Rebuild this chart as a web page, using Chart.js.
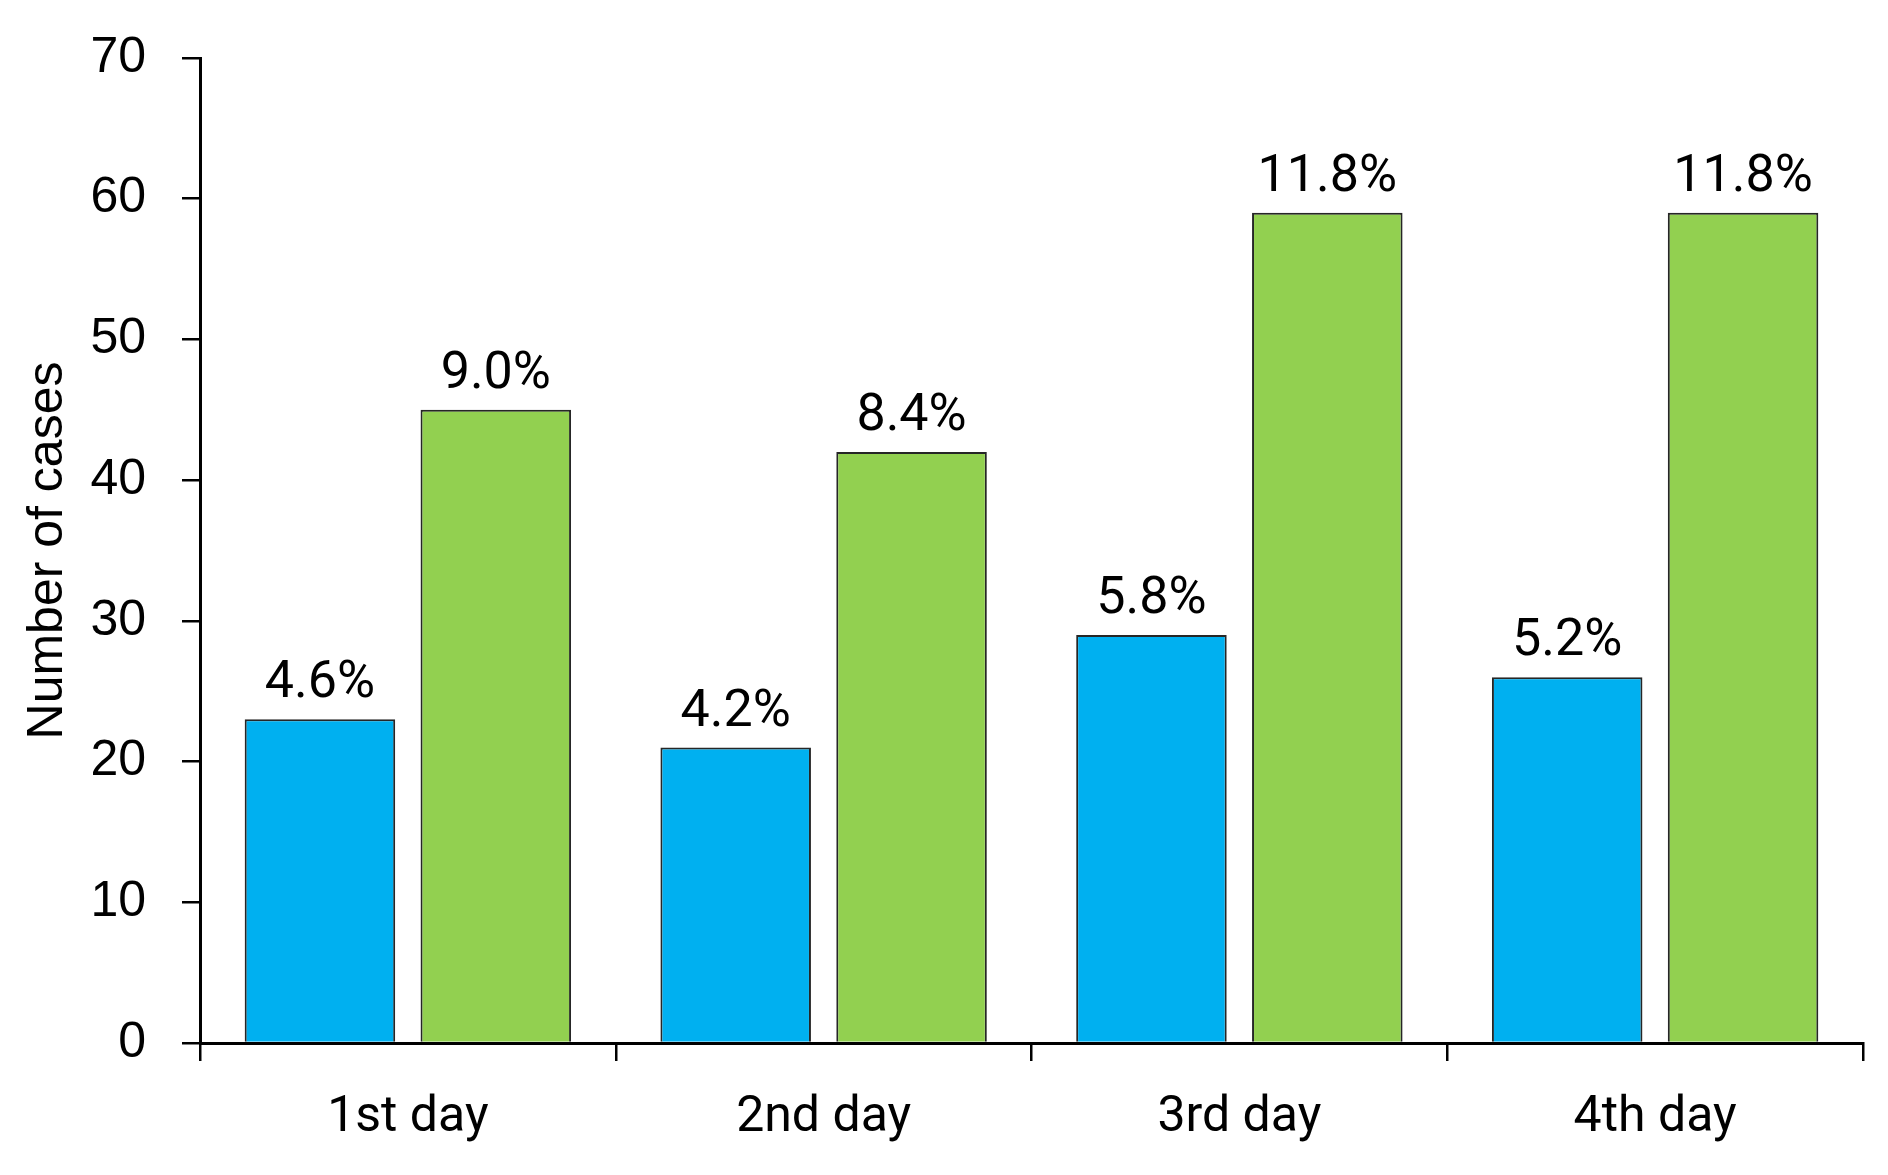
<!DOCTYPE html>
<html>
<head>
<meta charset="utf-8">
<script src="https://cdn.jsdelivr.net/npm/chart.js@4.4.1/dist/chart.umd.min.js"></script>
<style>
  html, body { margin: 0; padding: 0; background: #fff; }
  #wrap { width: 1888px; height: 1175px; }
</style>
</head>
<body>
<div id="wrap"><canvas id="graphCanvas" width="1888" height="1175"></canvas></div>
<script>
var days = ['1st day', '2nd day', '3rd day', '4th day'];
var blueCases = [23, 21, 29, 26];
var greenCases = [45, 42, 59, 59];
var bluePct = ['4.6%', '4.2%', '5.8%', '5.2%'];
var greenPct = ['9.0%', '8.4%', '11.8%', '11.8%'];
var yTicks = [0, 10, 20, 30, 40, 50, 60, 70];

var labelFont = 'Roboto, "Liberation Sans", Arial, sans-serif';
var sansFont = '"Liberation Sans", Arial, sans-serif';

// percentage labels above every bar
var barLabels = {
    id: 'barLabels',
    afterDatasetsDraw: function (chart) {
        var ctx = chart.ctx;
        ctx.save();
        ctx.font = '52px ' + labelFont;
        ctx.fillStyle = '#000';
        ctx.textAlign = 'center';
        ctx.textBaseline = 'alphabetic';
        chart.data.datasets.forEach(function (ds, i) {
            var meta = chart.getDatasetMeta(i);
            meta.data.forEach(function (bar, j) {
                ctx.fillText(ds.pct[j], bar.x, bar.y - 22);
            });
        });
        ctx.restore();
    }
};

var chartdata = {
    labels: days,
    datasets: [
        {
            label: 'blue',
            data: blueCases,
            pct: bluePct,
            backgroundColor: '#00B0F0',
            borderColor: '#262626',
            borderWidth: 2,
            borderSkipped: 'bottom',
            categoryPercentage: 0.846,
            barPercentage: 0.856
        },
        {
            label: 'green',
            data: greenCases,
            pct: greenPct,
            backgroundColor: '#92D050',
            borderColor: '#262626',
            borderWidth: 2,
            borderSkipped: 'bottom',
            categoryPercentage: 0.846,
            barPercentage: 0.856
        }
    ]
};

new Chart(document.getElementById('graphCanvas'), {
    type: 'bar',
    data: chartdata,
    plugins: [barLabels],
    options: {
        responsive: false,
        animation: false,
        devicePixelRatio: 1,
        layout: { padding: { top: 58, right: 25, bottom: 0, left: 0 } },
        plugins: {
            legend: { display: false },
            tooltip: { enabled: false }
        },
        scales: {
            x: {
                offset: true,
                border: { display: true, color: '#000', width: 3 },
                grid: { display: true, drawOnChartArea: false, drawTicks: true, tickLength: 18, color: '#000', lineWidth: 2.5, offset: true },
                ticks: { color: '#000', font: { family: labelFont, size: 50 }, padding: 27, maxRotation: 0 },
                afterFit: function (scale) { scale.height = 132; }
            },
            y: {
                min: 0,
                max: 70,
                afterBuildTicks: function (scale) {
                    scale.ticks = yTicks.map(function (v) { return { value: v }; });
                },
                border: { display: true, color: '#000', width: 3 },
                grid: { display: true, drawOnChartArea: false, drawTicks: true, tickLength: 18, color: '#000', lineWidth: 2.5 },
                ticks: { color: '#000', font: { family: sansFont, size: 50 }, padding: 36 },
                title: {
                    display: true,
                    text: 'Number of cases',
                    color: '#000',
                    font: { family: sansFont, size: 50, lineHeight: 1 },
                    padding: { top: 23, bottom: 0 }
                },
                afterFit: function (scale) {
                    scale.width = 200;
                    scale.paddingTop = 0;
                    scale.paddingBottom = 0;
                }
            }
        }
    }
});
</script>
</body>
</html>
